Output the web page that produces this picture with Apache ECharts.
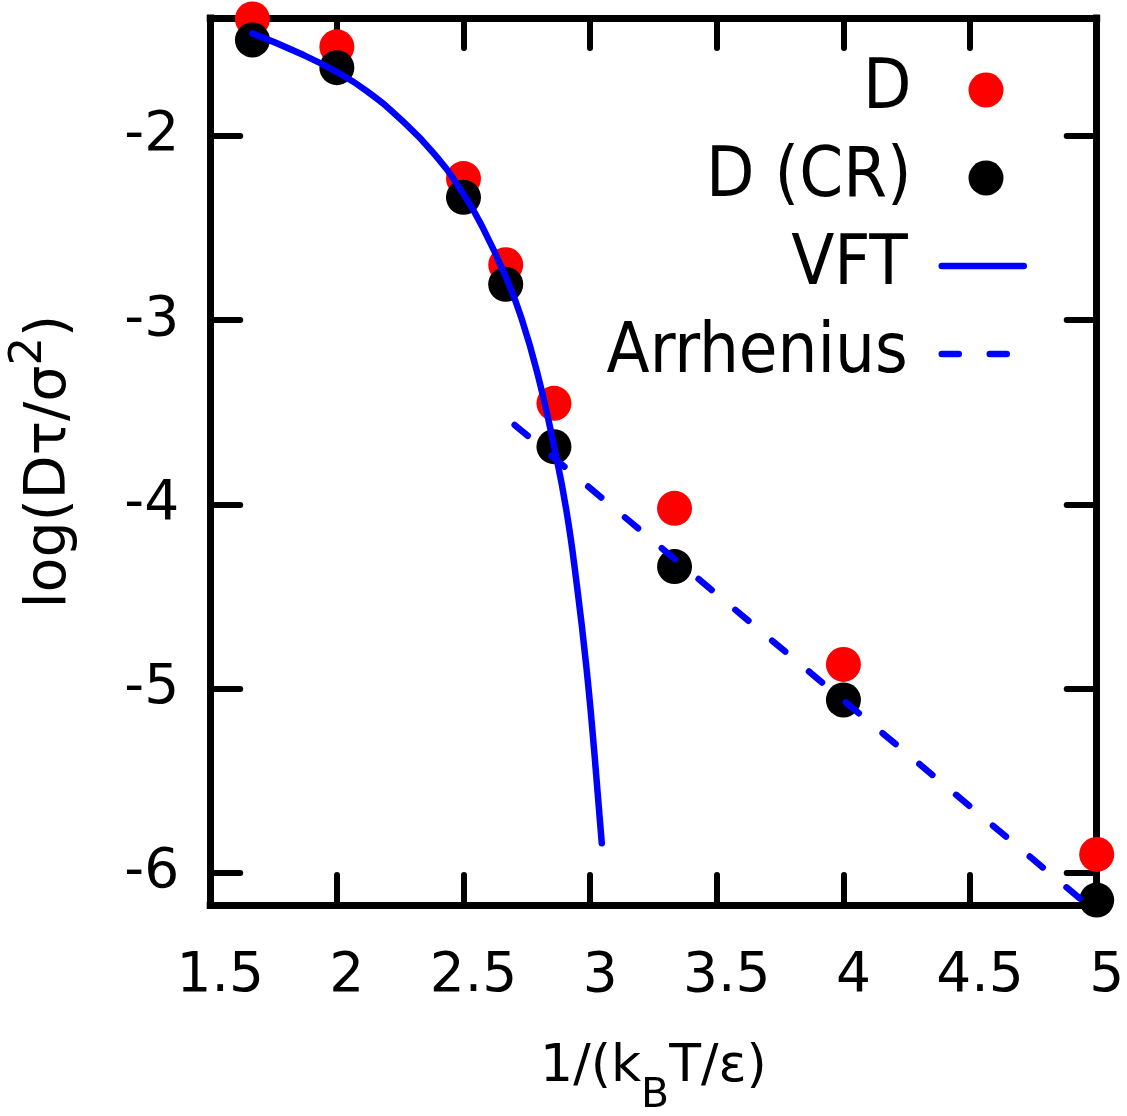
<!DOCTYPE html>
<html><head><meta charset="utf-8">
<script src="https://cdn.jsdelivr.net/npm/echarts@6/dist/echarts.min.js"></script>
<style>html,body{margin:0;padding:0;background:#fff}#c{width:1127px;height:1116px}</style>
</head><body><div id="c"></div>
<script>
// data
const invT = [1.6667, 2, 2.5, 2.6667, 2.8571, 3.3333, 4, 5];
const D = [-1.365, -1.516, -2.231, -2.699, -3.451, -4.021, -4.868, -5.899];
const D_CR = [-1.479, -1.629, -2.333, -2.805, -3.686, -4.337, -5.061, -6.147];
const vftX = [1.667, 1.853, 1.998, 2.117, 2.248, 2.380, 2.498, 2.577, 2.667, 2.729, 2.794, 2.860, 2.906, 2.946, 2.985, 3.018, 3.046];
const vftY = [-1.443, -1.551, -1.651, -1.755, -1.905, -2.090, -2.311, -2.500, -2.764, -2.989, -3.300, -3.700, -4.030, -4.420, -4.880, -5.369, -5.839];
const arrX = [2.702, 5];
const arrY = [-3.568, -6.215];
const yTicks = [-6, -5, -4, -3, -2];
const xMin = 1.5, xMax = 5, xStep = 0.5;
const yMin = -6.1737, yMax = -1.3596;
const names = ['D', 'D (CR)', 'VFT', 'Arrhenius'];

const zip = (a, b) => a.map((v, i) => [v, b[i]]);
const FONT = 'DejaVu Sans';
const tickLen = 30;
const axisLine = {show: true, onZero: false, lineStyle: {color: '#000', width: 7, cap: 'square'}};
const tick = {show: true, inside: true, length: tickLen, lineStyle: {color: '#000', width: 6, cap: 'round'}};

const chart = echarts.init(document.getElementById('c'), null, {renderer: 'canvas'});
const legendText = (padRight) => ({fontSize: 70, fontFamily: 'DejaVu Sans Condensed', color: '#000', padding: [8, padRight, 0, 0]});
const legendBase = {
  orient: 'horizontal', align: 'right', right: 100, padding: 0,
  itemWidth: 82, itemHeight: 35, selectedMode: false, textStyle: legendText(29)
};
const hiddenSymbol = {color: 'rgba(0,0,0,0)', borderWidth: 0, opacity: 0};
chart.setOption({
  animation: false,
  backgroundColor: '#fff',
  grid: {left: 210.2, right: 30.3, top: 18, bottom: 211, containLabel: false, outerBoundsMode: 'none'},
  legend: [
    Object.assign({}, legendBase, {data: [names[0]], top: 55, right: 123.5, itemWidth: 35, textStyle: legendText(52)}),
    Object.assign({}, legendBase, {data: [names[1]], top: 143, right: 123.5, itemWidth: 35, textStyle: legendText(52)}),
    Object.assign({}, legendBase, {data: [names[2]], top: 231, itemStyle: hiddenSymbol,
      lineStyle: {width: 6.5, cap: 'round', color: '#0000ff'}}),
    Object.assign({}, legendBase, {data: [names[3]], top: 319, itemStyle: hiddenSymbol,
      lineStyle: {width: 6.5, cap: 'round', color: '#0000ff', type: [17, 31]}})
  ],
  xAxis: [
    {type: 'value', position: 'bottom', min: xMin, max: xMax, interval: xStep,
     axisLine, axisTick: tick, splitLine: {show: false},
     axisLabel: {margin: 44, fontSize: 55, fontFamily: FONT, color: '#000', showMinLabel: true, showMaxLabel: true, padding: [0, 0, 0, 20]},
     name: '1/(k{sub|B}T/ε)', nameLocation: 'middle', nameGap: 136,
     nameTextStyle: {fontSize: 52, fontFamily: FONT, color: '#000',
       rich: {sub: {fontSize: 41, fontFamily: FONT, color: '#000', lineHeight: 41, padding: [59, 0, 0, 0]}}}},
    {type: 'value', position: 'top', min: xMin, max: xMax, interval: xStep,
     axisLine, axisTick: tick, splitLine: {show: false}, axisLabel: {show: false}}
  ],
  yAxis: [
    {type: 'value', position: 'left', min: yMin, max: yMax,
     axisLine, axisTick: Object.assign({}, tick, {customValues: yTicks}), splitLine: {show: false},
     axisLabel: {customValues: yTicks, margin: 31, fontSize: 55, fontFamily: FONT, color: '#000'},
     name: 'log(Dτ/σ{sup|2})', nameLocation: 'middle', nameRotate: 90, nameGap: 132,
     nameTextStyle: {fontSize: 57, fontFamily: FONT, color: '#000',
       rich: {sup: {fontSize: 45, fontFamily: FONT, color: '#000', lineHeight: 45, padding: [0, 0, 40, 0]}}}},
    {type: 'value', position: 'right', min: yMin, max: yMax,
     axisLine, axisTick: Object.assign({}, tick, {customValues: yTicks}), splitLine: {show: false},
     axisLabel: {show: false}}
  ],
  series: [
    {name: names[0], type: 'scatter', data: zip(invT, D), symbol: 'circle', symbolSize: 35,
     itemStyle: {color: '#ff0000', opacity: 1}, clip: false, z: 3},
    {name: names[1], type: 'scatter', data: zip(invT, D_CR), symbol: 'circle', symbolSize: 35,
     itemStyle: {color: '#000000', opacity: 1}, clip: false, z: 4},
    {name: names[2], type: 'line', data: zip(vftX, vftY), showSymbol: false, symbol: 'none',
     smooth: 0.5,
     lineStyle: {color: '#0000ff', width: 6.5, cap: 'round', join: 'round'}, itemStyle: {color: '#0000ff'}, z: 5},
    {name: names[3], type: 'line', data: zip(arrX, arrY), showSymbol: false, symbol: 'none',
     lineStyle: {color: '#0000ff', width: 6.5, cap: 'round', type: [17, 31]}, itemStyle: {color: '#0000ff'}, z: 5}
  ]
});
</script>
</body></html>
